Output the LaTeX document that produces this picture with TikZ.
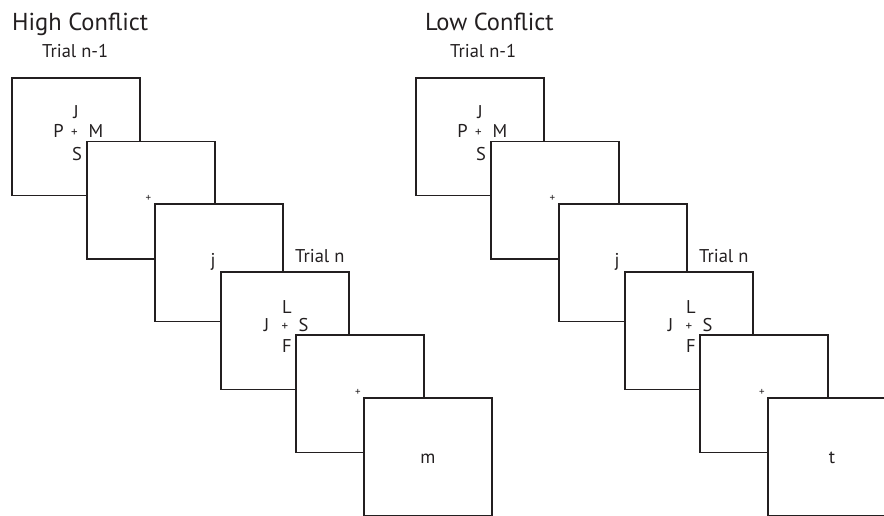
\documentclass[tikz,border=0pt]{standalone}
\usepackage{fontspec}
\setmainfont{PT Sans}
\usetikzlibrary{calc}
\definecolor{ink}{HTML}{231F20}
\begin{document}
\begin{tikzpicture}[x=1pt,y=-1pt,
  scr/.style={draw=ink,fill=white,line width=1.4pt,minimum width=128pt,minimum height=117.5pt,anchor=north west,inner sep=0pt,outer sep=0pt},
  ltr/.style={text=ink,inner sep=0pt,anchor=base,font=\fontsize{18.5}{20}\selectfont},
  fix/.style={text=ink,inner sep=0pt,anchor=center,font=\fontsize{13}{13}\selectfont},
  fixs/.style={text=ink,inner sep=0pt,anchor=center,font=\fontsize{11}{11}\selectfont},
  ttl/.style={text=ink,inner sep=0pt,anchor=base west,font=\fontsize{24.5}{27}\selectfont},
  lbl/.style={text=ink,inner sep=0pt,anchor=base west,font=\fontsize{18.5}{20}\selectfont}]
\useasboundingbox (0,0) rectangle (884,515);
\clip (0,0) rectangle (884,515);
\foreach \p/\dx/\tx/\ax/\tt/\fin in {L/0/12/42/High Conflict/m, R/404/21/46/Low Conflict/t}{
\begin{scope}[xshift=\dx]
  \node[ttl] (\p title) at (\tx,30) {\tt};
  \node[lbl] (\p trialA) at (\ax,57) {Trial n-1};
  % box 1
  \node[scr] (\p b1) at (12,78) {};
  \node[ltr] (\p b1J) at ($(\p b1.north west)+(64,40)$) {J};
  \node[ltr] (\p b1P) at ($(\p b1.north west)+(46.5,59)$) {P};
  \node[ltr] (\p b1M) at ($(\p b1.north west)+(84,59)$) {M};
  \node[ltr] (\p b1S) at ($(\p b1.north west)+(65,82)$) {S};
  \node[fix] (\p b1f) at ($(\p b1.north west)+(62.5,55)$) {+};
  % box 2
  \node[scr] (\p b2) at (87,141.5) {};
  \node[fixs] (\p b2f) at ($(\p b2.north west)+(61.5,56.5)$) {+};
  % box 3
  \node[scr] (\p b3) at (155,204) {};
  \node[ltr] (\p b3j) at ($(\p b3.north west)+(58,62)$) {j};
  \node[lbl] (\p trialB) at (295,262) {Trial n};
  % box 4
  \node[scr] (\p b4) at (221,272) {};
  \node[ltr] (\p b4L) at ($(\p b4.north west)+(66,41)$) {L};
  \node[ltr] (\p b4J) at ($(\p b4.north west)+(45.5,59)$) {J};
  \node[ltr] (\p b4S) at ($(\p b4.north west)+(82.5,59)$) {S};
  \node[ltr] (\p b4F) at ($(\p b4.north west)+(66,80)$) {F};
  \node[fix] (\p b4f) at ($(\p b4.north west)+(64,55)$) {+};
  % box 5
  \node[scr] (\p b5) at (296,335) {};
  \node[fixs] (\p b5f) at ($(\p b5.north west)+(62,57)$) {+};
  % box 6
  \node[scr] (\p b6) at (364,398) {};
  \node[ltr] (\p b6x) at ($(\p b6.north west)+(64,65)$) {\fin};
\end{scope}}
\end{tikzpicture}
\end{document}
